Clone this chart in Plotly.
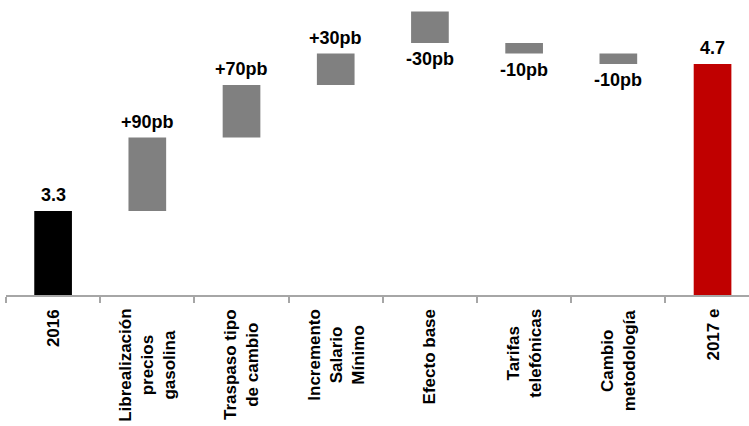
import plotly.graph_objects as go

categories = ["2016", "Librealización<br>precios<br>gasolina", "Traspaso tipo<br>de cambio",
              "Incremento<br>Salario<br>Mínimo", "Efecto base", "Tarifas<br>telefónicas",
              "Cambio<br>metodología", "2017 e"]
bar_bottom = [0.0, 3.3, 4.0, 4.5, 4.9, 4.8, 4.7, 0.0]
bar_top = [3.3, 4.0, 4.5, 4.8, 5.2, 4.9, 4.8, 4.7]
labels = ["3.3", "+90pb", "+70pb", "+30pb", "-30pb", "-10pb", "-10pb", "4.7"]
label_below = [False, False, False, False, True, True, True, False]
colors = ["#000000", "#808080", "#808080", "#808080", "#808080", "#808080", "#808080", "#C00000"]

FONT = "Liberation Sans, Arial, sans-serif"

fig = go.Figure()
fig.add_trace(go.Bar(
    x=list(range(len(categories))),
    y=[t - b for t, b in zip(bar_top, bar_bottom)],
    base=bar_bottom,
    marker=dict(color=colors, line=dict(width=0)),
    width=0.4,
    showlegend=False,
    hoverinfo="skip",
))

for i, (b, t, lab, below) in enumerate(zip(bar_bottom, bar_top, labels, label_below)):
    if below:
        fig.add_annotation(x=i, y=b, text="<b>%s</b>" % lab, showarrow=False,
                           yanchor="top", yshift=-4, font=dict(family=FONT, size=18, color="#000000"))
    else:
        fig.add_annotation(x=i, y=t, text="<b>%s</b>" % lab, showarrow=False,
                           yanchor="bottom", yshift=4, font=dict(family=FONT, size=18, color="#000000"))

# category labels, rotated, lines centred
for i, c in enumerate(categories):
    fig.add_annotation(x=i, xref="x", y=0, yref="paper", text="<b>%s</b>" % c,
                       showarrow=False, textangle=-90, align="center",
                       xanchor="center", yanchor="top", yshift=-12,
                       font=dict(family=FONT, size=17, color="#000000"))

fig.update_layout(
    width=749, height=426,
    margin=dict(l=6, r=0, t=0, b=131),
    plot_bgcolor="white", paper_bgcolor="white",
)
fig.update_xaxes(
    type="linear",
    range=[-0.5, 7.387],
    showline=True, linecolor="#A6A6A6", linewidth=2,
    ticks="outside", ticklen=6, tickcolor="#A6A6A6", tickwidth=2,
    tickmode="array", tickvals=[i - 0.5 for i in range(len(categories) + 1)],
    showticklabels=False,
    showgrid=False, zeroline=False, automargin=False,
)
fig.update_yaxes(
    range=[2.5, 2.5 + 295 / 105],
    visible=False, showgrid=False, zeroline=False, automargin=False,
)

fig.write_html("out.html", config={"displayModeBar": False},
               post_script="document.body.style.margin='0';document.body.style.overflow='hidden';")
